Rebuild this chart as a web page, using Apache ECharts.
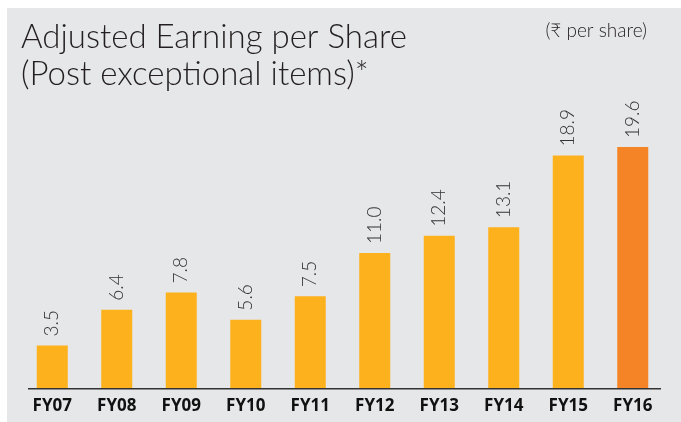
<!DOCTYPE html>
<html><head><meta charset="utf-8">
<script src="https://cdn.jsdelivr.net/npm/echarts@6/dist/echarts.min.js"></script>
<style>html,body{margin:0;padding:0;background:#fff}#c{width:681px;height:422px}</style>
</head><body><div id="c"></div>
<script>
const categories = ['FY07','FY08','FY09','FY10','FY11','FY12','FY13','FY14','FY15','FY16'];
const values = [3.5, 6.4, 7.8, 5.6, 7.5, 11.0, 12.4, 13.1, 18.9, 19.6];
const labels = ['3.5','6.4','7.8','5.6','7.5','11.0','12.4','13.1','18.9','19.6'];
const titleLines = ['Adjusted Earning per Share', '(Post exceptional items)*'];
const unitText = '(₹ per share)';

const chart = echarts.init(document.getElementById('c'));
chart.setOption({
  backgroundColor: '#fff',
  animation: false,
  graphic: [
    {type:'rect', z:-10, shape:{x:7,y:8,width:674,height:414}, style:{fill:'#E6E7E8'}},
    {type:'text', left:21, top:19, style:{text:titleLines.join('\n'), font:'300 33px Lato', fill:'#231F20', lineHeight:37}},
    {type:'text', right:34, top:21, style:{text:unitText, font:'300 19px Lato', fill:'#231F20'}},
    {type:'line', z:5, shape:{x1:28, y1:388.7, x2:661, y2:388.7}, style:{stroke:'#333', lineWidth:1.5}}
  ],
  grid: {left:20, right:16, top:92.7, bottom:33.3},
  xAxis: {
    type:'category', data:categories,
    axisLine:{show:false},
    axisTick:{show:false},
    axisLabel:{color:'#111', fontWeight:'bold', fontSize:17, fontFamily:'Open Sans', margin:9}
  },
  yAxis: {type:'value', min:0, max:24, show:false, splitLine:{show:false}},
  series: [{
    type:'bar', barWidth:31,
    data: values.map((v,i)=>({value:v, itemStyle:{color: i===values.length-1 ? '#F58426' : '#FDB11D'}})),
    label:{show:true, position:'top', rotate:90, distance:9, align:'left', verticalAlign:'middle',
      color:'#333', fontSize:19, fontFamily:'Lato', fontWeight:300,
      formatter:p=>labels[p.dataIndex]}
  }]
});
</script></body></html>
